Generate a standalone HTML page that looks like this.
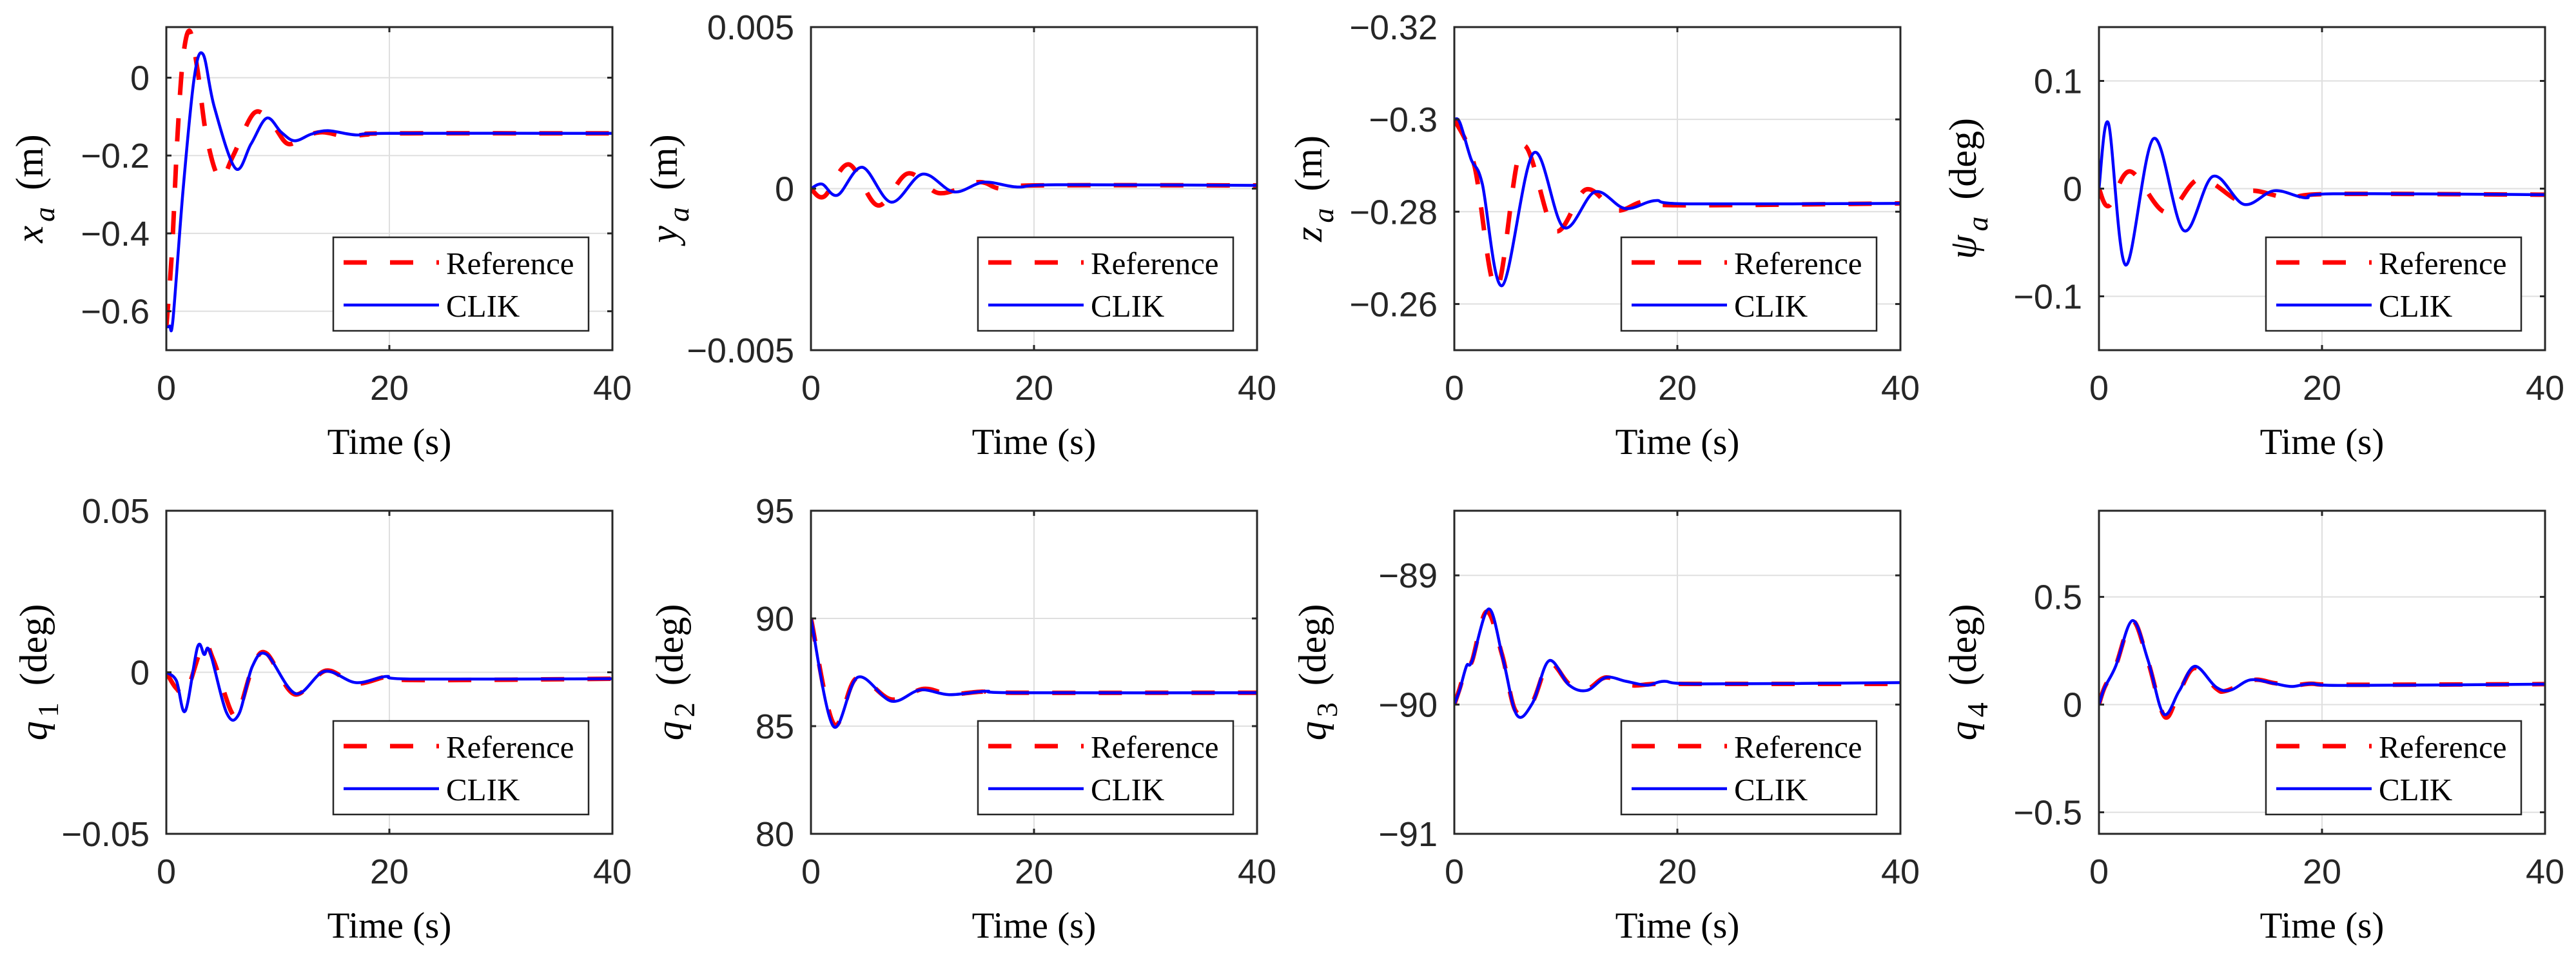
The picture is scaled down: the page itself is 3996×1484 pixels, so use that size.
<!DOCTYPE html>
<html><head><meta charset="utf-8">
<style>
html,body{margin:0;padding:0;background:#fff;}
svg{display:block;}
</style></head>
<body>
<svg id="fig" xmlns="http://www.w3.org/2000/svg" width="3996" height="1484" viewBox="0 0 3996 1484"></svg>
<script>
// ---------- data ----------
const xTicks = [0, 20, 40];

// x_a
const xaRefT = [0,0.5,1,1.5,2.1,2.8,3.6,4.8,6,7.9,9.5,10.9,12.5,14,16,18,20,40];
const xaRefV = [-0.64,-0.45,-0.15,0.05,0.12,0.02,-0.15,-0.26,-0.2,-0.09,-0.12,-0.17,-0.15,-0.14,-0.15,-0.146,-0.143,-0.143];
const xaClkT = [0,0.3,0.6,1.5,2.5,3.3,4.3,6.2,7.6,9,10.3,11.5,13,14.5,17,20,40];
const xaClkV = [-0.64,-0.638,-0.62,-0.29,0,0.06,-0.075,-0.233,-0.17,-0.104,-0.14,-0.162,-0.145,-0.136,-0.147,-0.143,-0.143];
const xaYTicks = [-0.6,-0.4,-0.2,0];

// y_a
const yaRefT = [0,1.2,3.4,6,8.7,11.5,15,17,20,40];
const yaRefV = [0,-0.00024,0.00075,-0.00052,0.00047,-0.00014,0.0002,0,0.0001,0.0001];
const yaClkT = [0,1,2.4,4.6,7.2,10,12.8,15.5,18.5,22,40];
const yaClkV = [0,0.00014,-0.0002,0.00066,-0.00042,0.00045,-0.0001,0.0002,0.00005,0.00012,0.0001];
const yaYTicks = [-0.005,0,0.005];

// z_a (reversed axis)
const zaRefT = [0,1.8,3.8,6.1,9,11.8,14.5,17,20,40];
const zaRefV = [-0.3,-0.29,-0.2634,-0.2942,-0.2759,-0.2848,-0.2803,-0.2822,-0.2814,-0.2818];
const zaClkT = [0,0.5,1.5,2.5,4.3,7.1,9.8,12.6,15.3,18,21,40];
const zaClkV = [-0.3,-0.2993,-0.2914,-0.2861,-0.264,-0.2927,-0.2766,-0.2843,-0.2807,-0.2824,-0.2817,-0.2818];
const zaYTicks = [-0.32,-0.3,-0.28,-0.26];

// psi_a
const psRefT = [0,0.9,2.8,6,9,12.5,13.8,17.2,20.5,40];
const psRefV = [0,-0.016,0.016,-0.022,0.009,-0.011,-0.002,-0.009,-0.005,-0.0056];
const psClkT = [0,0.85,2.4,4.9,7.6,10.2,13,15.7,18.5,21,40];
const psClkV = [0,0.0606,-0.071,0.0465,-0.0389,0.0113,-0.0146,-0.002,-0.0085,-0.0048,-0.0056];
const psYTicks = [-0.1,0,0.1];

// q1
const q1RefT = [0,0.9,1.8,3.3,4.2,5.8,6.5,7.8,9,11.5,14.3,17,20,22,40];
const q1RefV = [0,-0.005,-0.006,0.0085,0.004,-0.012,-0.012,0.002,0.0058,-0.0068,0.0005,-0.0035,-0.0012,-0.0024,-0.002];
const q1ClkT = [0,0.9,1.7,2.8,3.4,3.9,5.4,6.5,7.7,9,11.6,14.2,17,19.7,22,40];
const q1ClkV = [0,-0.0026,-0.012,0.0078,0.0055,0.0064,-0.0125,-0.013,0.0017,0.0055,-0.0066,0.0003,-0.0032,-0.0013,-0.0021,-0.002];
const q1YTicks = [-0.05,0,0.05];

// q2
const q2RefT = [0,2.05,4.1,7.2,10.1,12.4,15.3,18,40];
const q2RefV = [90,85.1,87.23,86.24,86.73,86.48,86.6,86.55,86.55];
const q2ClkT = [0,2.0,4.2,7.2,9.8,12.4,15.7,18.3,40];
const q2ClkV = [90,85,87.27,86.16,86.68,86.46,86.62,86.55,86.55];
const q2YTicks = [80,85,90,95];

// q3
const q3RefT = [0,0.5,1.1,1.6,2.9,4.3,5.5,7,8.5,10.3,11.9,13.6,15.8,18,22,40];
const q3RefV = [-90,-89.87,-89.7,-89.66,-89.28,-89.62,-90.05,-89.98,-89.68,-89.84,-89.88,-89.79,-89.85,-89.84,-89.84,-89.84];
const q3ClkT = [0,0.5,1.1,1.6,3.1,4.4,5.6,7,8.5,10.3,11.9,13.6,15.4,17.3,18.8,22,40];
const q3ClkV = [-90,-89.88,-89.7,-89.66,-89.26,-89.66,-90.08,-89.99,-89.66,-89.85,-89.89,-89.79,-89.82,-89.85,-89.82,-89.84,-89.83];
const q3YTicks = [-91,-90,-89];

// q4
const q4RefT = [0,0.5,1.5,3.0,4.4,5.9,7.2,8.6,10.5,11.4,13.8,15.7,17.3,19,22,40];
const q4RefV = [0,0.08,0.18,0.388,0.2,-0.057,0.06,0.17,0.075,0.064,0.114,0.1,0.088,0.097,0.092,0.095];
const q4ClkT = [0,0.5,1.5,3.0,4.4,5.8,7.2,8.6,10.5,11.8,13.6,15.7,17.3,19,22,40];
const q4ClkV = [0,0.078,0.178,0.39,0.206,-0.043,0.064,0.178,0.081,0.067,0.115,0.098,0.084,0.097,0.089,0.095];
const q4YTicks = [-0.5,0,0.5];

// ---------- layout ----------
const NS = 'http://www.w3.org/2000/svg';
const svg = document.getElementById('fig');
const colL = [258, 1258, 2256, 3256];
const PW = 692;
const rowT = [42, 792];
const PH = 501;

const f1 = v => v===0 ? '0' : v.toFixed(1);
const panels = [
 {id:'xa', c:0,r:0, y0:-0.7,y1:0.13, rev:false, yt:xaYTicks, fmt:f1, lab:'x', sub:'a', unit:'(m)', lx:48, rt:xaRefT, rv:xaRefV, ct:xaClkT, cv:xaClkV},
 {id:'ya', c:1,r:0, y0:-0.005,y1:0.005, rev:false, yt:yaYTicks, fmt:v=>v===0?'0':v.toFixed(3), lab:'y', sub:'a', unit:'(m)', lx:1032, rt:yaRefT, rv:yaRefV, ct:yaClkT, cv:yaClkV},
 {id:'za', c:2,r:0, y0:-0.32,y1:-0.25, rev:true, yt:zaYTicks, fmt:v=>String(+v.toFixed(2)), lab:'z', sub:'a', unit:'(m)', lx:2032, rt:zaRefT, rv:zaRefV, ct:zaClkT, cv:zaClkV},
 {id:'psia', c:3,r:0, y0:-0.15,y1:0.15, rev:false, yt:psYTicks, fmt:f1, lab:'\u03c8', sub:'a', unit:'(deg)', lx:3047, rt:psRefT, rv:psRefV, ct:psClkT, cv:psClkV},
 {id:'q1', c:0,r:1, y0:-0.05,y1:0.05, rev:false, yt:q1YTicks, fmt:v=>v===0?'0':v.toFixed(2), lab:'q', sub:'1', unit:'(deg)', lx:54, rt:q1RefT, rv:q1RefV, ct:q1ClkT, cv:q1ClkV},
 {id:'q2', c:1,r:1, y0:80,y1:95, rev:false, yt:q2YTicks, fmt:v=>String(v), lab:'q', sub:'2', unit:'(deg)', lx:1041, rt:q2RefT, rv:q2RefV, ct:q2ClkT, cv:q2ClkV},
 {id:'q3', c:2,r:1, y0:-91,y1:-88.5, rev:false, yt:q3YTicks, fmt:v=>String(v), lab:'q', sub:'3', unit:'(deg)', lx:2038, rt:q3RefT, rv:q3RefV, ct:q3ClkT, cv:q3ClkV},
 {id:'q4', c:3,r:1, y0:-0.6,y1:0.9, rev:false, yt:q4YTicks, fmt:f1, lab:'q', sub:'4', unit:'(deg)', lx:3047, rt:q4RefT, rv:q4RefV, ct:q4ClkT, cv:q4ClkV}
];

function mk(tag, attrs, parent){
  const e = document.createElementNS(NS, tag);
  for (const k in attrs) e.setAttribute(k, attrs[k]);
  (parent||svg).appendChild(e);
  return e;
}
function fmtMinus(s){ return s.replace('-', '\u2212'); }
function smoothPath(pts){
  let d = 'M' + pts[0][0].toFixed(1) + ',' + pts[0][1].toFixed(1);
  for (let i=0;i<pts.length-1;i++){
    const p0 = pts[Math.max(i-1,0)], p1 = pts[i], p2 = pts[i+1], p3 = pts[Math.min(i+2,pts.length-1)];
    const t = 1/6;
    let c1 = [p1[0]+(p2[0]-p0[0])*t, p1[1]+(p2[1]-p0[1])*t];
    let c2 = [p2[0]-(p3[0]-p1[0])*t, p2[1]-(p3[1]-p1[1])*t];
    d += ' C'+c1[0].toFixed(1)+','+c1[1].toFixed(1)+' '+c2[0].toFixed(1)+','+c2[1].toFixed(1)+' '+p2[0].toFixed(1)+','+p2[1].toFixed(1);
  }
  return d;
}

const defs = mk('defs', {});
panels.forEach(p => {
  const L = colL[p.c], T = rowT[p.r], R = L+PW, B = T+PH;
  const xS = t => L + t/40*PW;
  const yS = v => p.rev ? T + (v-p.y0)/(p.y1-p.y0)*PH : B - (v-p.y0)/(p.y1-p.y0)*PH;
  const g = mk('g', {});
  
  
  const cp = mk('clipPath', {id:'clip-'+p.id}, defs);
  mk('rect', {x:L, y:T, width:PW, height:PH}, cp);

  const grid = mk('g', {stroke:'#dfdfdf', 'stroke-width':2}, g);
  
  
  xTicks.forEach(t => { mk('line', {x1:xS(t), x2:xS(t), y1:T, y2:B}, grid); });
  p.yt.forEach(v => { mk('line', {x1:L, x2:R, y1:yS(v), y2:yS(v)}, grid); });

  const refPts = p.rt.map((t,i)=>[xS(t), yS(p.rv[i])]);
  const clkPts = p.ct.map((t,i)=>[xS(t), yS(p.cv[i])]);
  const ref = mk('path', {d:smoothPath(refPts), fill:'none', stroke:'#ff0000', 'stroke-width':7, 'stroke-dasharray':'36 36', 'clip-path':'url(#clip-'+p.id+')'}, g);
  
  
  const clk = mk('path', {d:smoothPath(clkPts), fill:'none', stroke:'#0000ff', 'stroke-width':4.5, 'stroke-linejoin':'round', 'clip-path':'url(#clip-'+p.id+')'}, g);
  
  

  const box = mk('rect', {x:L, y:T, width:PW, height:PH, fill:'none', stroke:'#262626', 'stroke-width':3}, g);
  
  
  const tk = mk('g', {stroke:'#262626', 'stroke-width':3}, g);
  xTicks.forEach(t => { mk('line',{x1:xS(t),x2:xS(t),y1:B,y2:B-8},tk); mk('line',{x1:xS(t),x2:xS(t),y1:T,y2:T+8},tk); });
  p.yt.forEach(v => { mk('line',{x1:L,x2:L+8,y1:yS(v),y2:yS(v)},tk); mk('line',{x1:R,x2:R-8,y1:yS(v),y2:yS(v)},tk); });

  xTicks.forEach(t => {
    const tx = mk('text', {x:xS(t), y:B+77, 'text-anchor':'middle', 'font-family':'Liberation Sans, Arial, sans-serif', 'font-size':54, fill:'#262626'}, g);
    tx.textContent = String(t);
    
    
  });
  p.yt.forEach(v => {
    const ty = mk('text', {x:L-26, y:yS(v)+19, 'text-anchor':'end', 'font-family':'Liberation Sans, Arial, sans-serif', 'font-size':54, fill:'#262626'}, g);
    ty.textContent = fmtMinus(p.fmt(v));
    
    
  });

  const xt = mk('text', {x:L+PW/2, y:B+161, 'text-anchor':'middle', 'font-family':'Liberation Serif, Times New Roman, serif', 'font-size':57, fill:'#000'}, g);
  xt.textContent = 'Time (s)';
  
  

  const cy = T + PH/2;
  const yt = mk('text', {x:0, y:0, 'text-anchor':'middle', 'font-family':'Liberation Serif, Times New Roman, serif', 'font-size':60, fill:'#000', transform:'translate('+(p.lx+18)+','+cy+') rotate(-90)'}, g);
  
  
  const s1 = mk('tspan', {'font-style':'italic'}, yt); s1.textContent = p.lab;
  const s2 = mk('tspan', {'font-style': /\d/.test(p.sub)?'normal':'italic', 'font-size':46, dy:18, dx:6}, yt); s2.textContent = p.sub;
  const s3 = mk('tspan', {dy:-18, dx:26}, yt); s3.textContent = p.unit;

  const lgX = L+259, lgY = T+326;
  const lg = mk('g', {}, g);
  
  
  mk('rect', {x:lgX, y:lgY, width:396, height:145, fill:'#fff', stroke:'#262626', 'stroke-width':2.5}, lg);
  const e1 = mk('line', {x1:lgX+16, x2:lgX+164, y1:lgY+39, y2:lgY+39, stroke:'#ff0000', 'stroke-width':7, 'stroke-dasharray':'36 36'}, lg);
  
  
  const t1 = mk('text', {x:lgX+175, y:lgY+57, 'font-family':'Liberation Serif, Times New Roman, serif', 'font-size':49, fill:'#000'}, lg);
  t1.textContent = 'Reference';
  
  
  const e2 = mk('line', {x1:lgX+16, x2:lgX+164, y1:lgY+105, y2:lgY+105, stroke:'#0000ff', 'stroke-width':4.5}, lg);
  
  
  const t2 = mk('text', {x:lgX+175, y:lgY+123, 'font-family':'Liberation Serif, Times New Roman, serif', 'font-size':49, fill:'#000'}, lg);
  t2.textContent = 'CLIK';
  
  
});
</script>
</body></html>
